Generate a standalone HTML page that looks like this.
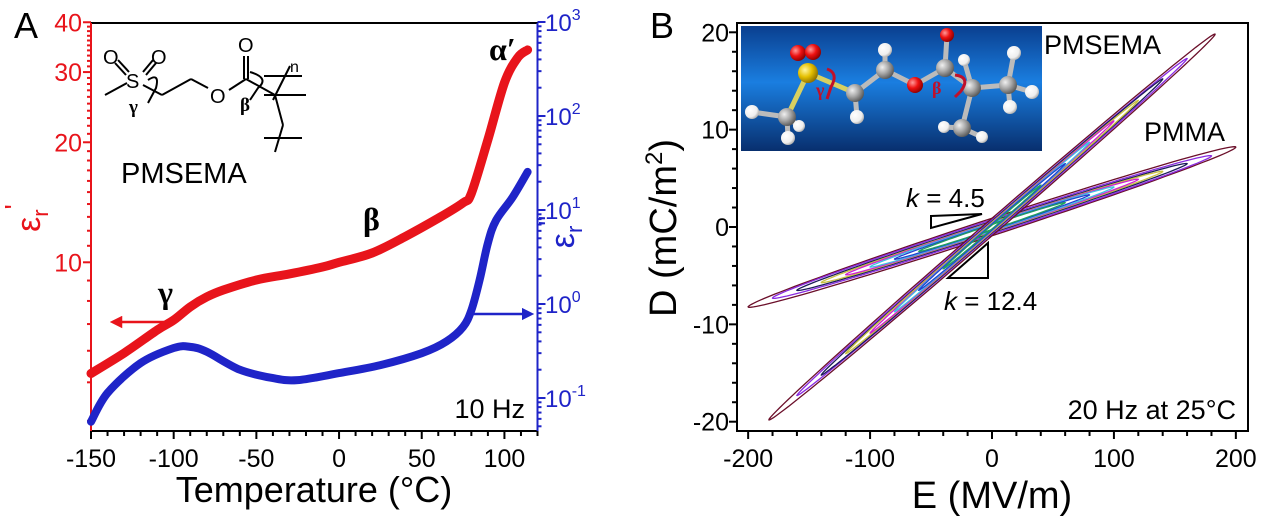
<!DOCTYPE html>
<html><head><meta charset="utf-8">
<style>
html,body{margin:0;padding:0;background:#fff;}
svg{display:block;font-family:"Liberation Sans",sans-serif;}
</style></head>
<body>
<svg id="fig" width="1268" height="524" viewBox="0 0 1268 524" xmlns="http://www.w3.org/2000/svg">
<defs>
<linearGradient id="bg" x1="0" y1="0" x2="0" y2="1">
<stop offset="0" stop-color="#0a3f8f"/><stop offset="0.45" stop-color="#1a7ee0"/><stop offset="1" stop-color="#082f6e"/>
</linearGradient>
<radialGradient id="gS" cx="0.35" cy="0.35" r="0.7"><stop offset="0" stop-color="#fff6a0"/><stop offset="0.5" stop-color="#e5c000"/><stop offset="1" stop-color="#8a6d00"/></radialGradient>
<radialGradient id="gO" cx="0.35" cy="0.35" r="0.7"><stop offset="0" stop-color="#ff9a9a"/><stop offset="0.5" stop-color="#ee1111"/><stop offset="1" stop-color="#880000"/></radialGradient>
<radialGradient id="gC" cx="0.35" cy="0.35" r="0.7"><stop offset="0" stop-color="#f0f0f0"/><stop offset="0.5" stop-color="#a8a8a8"/><stop offset="1" stop-color="#555"/></radialGradient>
<radialGradient id="gH" cx="0.35" cy="0.35" r="0.7"><stop offset="0" stop-color="#ffffff"/><stop offset="0.7" stop-color="#eeeeee"/><stop offset="1" stop-color="#aaaaaa"/></radialGradient>
<marker id="arR" viewBox="0 0 10 10" refX="5" refY="5" markerWidth="5" markerHeight="5" orient="auto"><path d="M0,0 L10,5 L0,10 z" fill="#e8141b"/></marker>
<marker id="arB" viewBox="0 0 10 10" refX="5" refY="5" markerWidth="5" markerHeight="5" orient="auto"><path d="M0,0 L10,5 L0,10 z" fill="#1f24c8"/></marker>
</defs>
<g id="panelA"></g>
<g id="panelB"></g>
</svg>
<script>
// ---------- Panel A data ----------
const tempRed = [-150,-130,-110,-100,-90,-80,-70,-50,-30,-10,0,20,40,60,75,80,90,100,108,114];
const epsReal = [5.26,5.92,6.76,7.16,7.73,8.19,8.52,9.03,9.35,9.73,10.0,10.55,11.6,12.9,14.1,14.9,20.3,28.2,32.6,34.1];
const tempBlue = [-150,-140,-120,-100,-90,-80,-60,-40,-25,0,25,50,65,75,80,85,90,95,105,114];
const epsImag = [0.056,0.113,0.235,0.34,0.35,0.31,0.2,0.163,0.155,0.184,0.224,0.30,0.40,0.57,0.86,1.8,4.45,7.8,13.7,25.4];
const xTicksA = [-150,-100,-50,0,50,100];
const yTicksLeft = [10,20,30,40];
const yExpRight = [-1,0,1,2,3];
// ---------- Panel B data ----------
const pmsemaEmax = [183,160,140,120,100,80,60,40];
const pmsemaDmax = [19.8,17.3,15.2,13.0,10.9,8.7,6.5,4.3];
const pmsemaLoss = [0.9,0.7,0.6,0.5,0.4,0.35,0.3,0.2];
const pmmaEmax = [200,180,160,140,120,100,80,60];
const pmmaDmax = [8.2,7.3,6.5,5.7,4.9,4.1,3.3,2.5];
const pmmaLoss = [0.9,0.75,0.6,0.5,0.45,0.4,0.3,0.25];
const loopColors = ['#6b0f2a','#8a2be2','#1b1b5a','#c8c040','#d020d0','#40c0e0','#2040d0','#20a060'];
const xTicksB = [-200,-100,0,100,200];
const yTicksB = [-20,-10,0,10,20];

const NS='http://www.w3.org/2000/svg';
function mk(parent,tag,attrs,text){const e=document.createElementNS(NS,tag);for(const k in attrs)e.setAttribute(k,attrs[k]);if(text!==undefined)e.textContent=text;parent.appendChild(e);return e;}

// ---------- Panel A ----------
const A=document.getElementById('panelA');
const aL=91,aR=537.5,aT=23,aB=431;
const xA=t=>aL+(t+150)*(aR-aL)/270;
const yL=v=>262.3-(Math.log10(v)-1)*398.7;
const yR=v=>304-Math.log10(v)*94;

let e;
e=mk(A,'line',{x1:aL,y1:aT,x2:aR,y2:aT,stroke:'#000','stroke-width':2});

e=mk(A,'line',{x1:aL-1,y1:aB,x2:aR+1,y2:aB,stroke:'#000','stroke-width':2});

e=mk(A,'line',{x1:aL,y1:aT,x2:aL,y2:aB,stroke:'#e8141b','stroke-width':2});

e=mk(A,'line',{x1:aR,y1:aT,x2:aR,y2:aB,stroke:'#1f24c8','stroke-width':2});

for(let t=-150;t<=120;t+=10){const maj=(t%50===0);
 e=mk(A,'line',{x1:xA(t),y1:aB,x2:xA(t),y2:aB+(maj?8:5),stroke:'#000','stroke-width':2});
 }
xTicksA.forEach(t=>{e=mk(A,'text',{x:xA(t),y:467,'font-size':25,'text-anchor':'middle'},String(t));
 });
for(let v=4;v<=40;v+=1){const maj=yTicksLeft.includes(v);
 if(yL(v)<aT-1)break;
 e=mk(A,'line',{x1:aL,y1:yL(v),x2:aL-(maj?8:4),y2:yL(v),stroke:'#e8141b','stroke-width':2});
 }
yTicksLeft.forEach(v=>{e=mk(A,'text',{x:82,y:yL(v)+9,'font-size':25,'text-anchor':'end',fill:'#e8141b'},String(v));
 });
for(let d=-2;d<3;d++){for(let m=1;m<10;m++){const v=m*Math.pow(10,d);const y=yR(v);if(y>aB||y<aT-1)continue;
 e=mk(A,'line',{x1:aR,y1:y,x2:aR+(m===1?8:4),y2:y,stroke:'#1f24c8','stroke-width':2});
 }}
e=mk(A,'line',{x1:aR,y1:yR(1000),x2:aR+8,y2:yR(1000),stroke:'#1f24c8','stroke-width':2});

yExpRight.forEach(p=>{const g=mk(A,'text',{x:545,y:yR(Math.pow(10,p))+9,'font-size':24,fill:'#1f24c8'});
 
 mk(g,'tspan',{},'10');mk(g,'tspan',{dy:-11,'font-size':16},String(p));});
// smooth curves (Catmull-Rom)
function smoothPath(xs,ys,fx,fy){const P=xs.map((x,i)=>[fx(x),fy(ys[i])]);let d='M'+P[0][0].toFixed(1)+','+P[0][1].toFixed(1);
 for(let i=0;i<P.length-1;i++){const p0=P[i-1]||P[i],p1=P[i],p2=P[i+1],p3=P[i+2]||P[i+1];
  const c1=[p1[0]+(p2[0]-p0[0])/6,p1[1]+(p2[1]-p0[1])/6],c2=[p2[0]-(p3[0]-p1[0])/6,p2[1]-(p3[1]-p1[1])/6];
  d+=' C'+c1[0].toFixed(1)+','+c1[1].toFixed(1)+' '+c2[0].toFixed(1)+','+c2[1].toFixed(1)+' '+p2[0].toFixed(1)+','+p2[1].toFixed(1);}
 return d;}
e=mk(A,'path',{d:smoothPath(tempBlue,epsImag,xA,yR),fill:'none',stroke:'#1f24c8','stroke-width':8,'stroke-linejoin':'round','stroke-linecap':'round'});

e=mk(A,'path',{d:smoothPath(tempRed,epsReal,xA,yL),fill:'none',stroke:'#e8141b','stroke-width':9,'stroke-linejoin':'round','stroke-linecap':'round'});

e=mk(A,'line',{x1:171,y1:322,x2:116,y2:322,stroke:'#e8141b','stroke-width':2.5,'marker-end':'url(#arR)'});

e=mk(A,'line',{x1:473,y1:314,x2:528,y2:314,stroke:'#1f24c8','stroke-width':2.5,'marker-end':'url(#arB)'});

</script>
<script>
(function(){
const A=document.getElementById('panelA');
const s=`
<text x="14" y="38" font-size="36">A</text>
<text x="314" y="502" font-size="36" text-anchor="middle">Temperature (°C)</text>
<text transform="translate(40,218) rotate(-90)" font-size="34" text-anchor="middle" fill="#e8141b">ε<tspan font-size="22" dy="8">r</tspan><tspan dy="-24" font-size="28">'</tspan></text>
<text transform="translate(574,232) rotate(-90)" font-size="34" text-anchor="middle" fill="#1f24c8">ε<tspan font-size="22" dy="8">r</tspan><tspan dy="-24" font-size="28">"</tspan></text>
<text x="121" y="183" font-size="29">PMSEMA</text>
<text x="525" y="418" font-size="27" text-anchor="end">10 Hz</text>
<text x="363" y="230" font-size="32" font-family="Liberation Serif" font-weight="bold">β</text>
<text x="158" y="303" font-size="32" font-family="Liberation Serif" font-weight="bold">γ</text>
<text x="489" y="60" font-size="32" font-family="Liberation Serif" font-weight="bold">α′</text>
<g stroke="#000" stroke-width="2" fill="none" font-size="20">
<text x="103" y="64" stroke="none" fill="#000">O</text><text x="151" y="64" stroke="none" fill="#000">O</text>
<text x="126" y="88" stroke="none" fill="#000">S</text><text x="210" y="103" stroke="none" fill="#000">O</text><text x="238" y="52" stroke="none" fill="#000">O</text>
<line x1="118" y1="60" x2="129" y2="72"/><line x1="115" y1="63" x2="126" y2="75"/>
<line x1="153" y1="60" x2="143" y2="72"/><line x1="156" y1="63" x2="146" y2="75"/>
<line x1="105" y1="95" x2="127" y2="83"/><line x1="143" y1="85" x2="162" y2="95"/>
<line x1="162" y1="95" x2="191" y2="79"/><line x1="191" y1="79" x2="208" y2="88"/>
<line x1="229" y1="90" x2="246" y2="79"/><line x1="244" y1="56" x2="244" y2="79"/><line x1="248" y1="56" x2="248" y2="79"/>
<line x1="246" y1="79" x2="275" y2="95"/><line x1="275" y1="95" x2="283" y2="125"/><line x1="283" y1="125" x2="275" y2="152"/>
<line x1="264" y1="76" x2="302" y2="76"/><line x1="264" y1="95" x2="306" y2="95"/><line x1="264" y1="138" x2="302" y2="138"/>
<line x1="273" y1="100" x2="290" y2="66"/>
<path d="M148,80 q12,-8 8,8 l-8,15"/><path d="M250,72 q20,6 8,16 l-8,12"/>
<text x="290" y="72" stroke="none" fill="#000" font-size="16">n</text>
<text x="129" y="113" stroke="none" fill="#000" font-family="Liberation Serif" font-weight="bold" font-size="19">γ</text>
<text x="240" y="111" stroke="none" fill="#000" font-family="Liberation Serif" font-weight="bold" font-size="19">β</text>
</g>`;
A.insertAdjacentHTML('beforeend',s);
})();
</script>
<script>
(function(){
const B=document.getElementById('panelB');
const bL=737,bR=1248,bT=23,bB=431;
const xB=v=>992+v*(1236.7-749)/400;
const yB=v=>227-v*9.735;
let e;
const inset=`
<g>
<rect x="741" y="26" width="301" height="125" fill="url(#bg)"/>
<g stroke="#bbbbbb" stroke-width="5" stroke-linecap="round">
<line x1="808" y1="73" x2="787" y2="117" stroke="#d8d060"/><line x1="808" y1="73" x2="855" y2="93" stroke="#d8d060"/>
<line x1="787" y1="117" x2="752" y2="112"/><line x1="787" y1="117" x2="788" y2="138"/><line x1="787" y1="117" x2="799" y2="126"/>
<line x1="855" y1="93" x2="885" y2="70"/><line x1="855" y1="93" x2="857" y2="117"/><line x1="885" y1="70" x2="885" y2="50"/>
<line x1="885" y1="70" x2="915" y2="85"/><line x1="915" y1="85" x2="945" y2="68"/><line x1="945" y1="68" x2="947" y2="35"/>
<line x1="945" y1="68" x2="972" y2="88"/><line x1="972" y1="88" x2="1008" y2="85"/><line x1="972" y1="88" x2="962" y2="128"/>
<line x1="1008" y1="85" x2="1014" y2="53"/><line x1="1008" y1="85" x2="1032" y2="92"/><line x1="1008" y1="85" x2="1010" y2="107"/>
<line x1="962" y1="128" x2="944" y2="127"/><line x1="962" y1="128" x2="982" y2="137"/><line x1="972" y1="88" x2="964" y2="60"/>
</g>
<circle cx="798" cy="53" r="8" fill="url(#gO)"/><circle cx="813" cy="52" r="8" fill="url(#gO)"/>
<circle cx="808" cy="73" r="10" fill="url(#gS)"/>
<circle cx="752" cy="112" r="7" fill="url(#gH)"/><circle cx="788" cy="138" r="7" fill="url(#gH)"/><circle cx="799" cy="126" r="6" fill="url(#gH)"/>
<circle cx="787" cy="117" r="9" fill="url(#gC)"/>
<circle cx="857" cy="117" r="7" fill="url(#gH)"/><circle cx="855" cy="93" r="9" fill="url(#gC)"/>
<circle cx="885" cy="50" r="7" fill="url(#gH)"/><circle cx="885" cy="70" r="9" fill="url(#gC)"/>
<circle cx="915" cy="85" r="8" fill="url(#gO)"/>
<circle cx="947" cy="35" r="7" fill="url(#gO)"/><circle cx="945" cy="68" r="9" fill="url(#gC)"/>
<circle cx="964" cy="60" r="6" fill="url(#gH)"/><circle cx="1014" cy="53" r="7" fill="url(#gH)"/>
<circle cx="1032" cy="92" r="7" fill="url(#gH)"/><circle cx="1010" cy="107" r="7" fill="url(#gH)"/>
<circle cx="1008" cy="85" r="9" fill="url(#gC)"/><circle cx="972" cy="88" r="9" fill="url(#gC)"/>
<circle cx="944" cy="127" r="6" fill="url(#gH)"/><circle cx="982" cy="137" r="6" fill="url(#gH)"/>
<circle cx="962" cy="128" r="9" fill="url(#gC)"/>
<path d="M827,69 q12,4 4,18 l-4,12" stroke="#c0102a" stroke-width="3" fill="none"/>
<path d="M955,75 q16,2 6,16 l-6,6" stroke="#c0102a" stroke-width="3" fill="none"/>
<text x="816" y="96" font-size="18" font-family="Liberation Serif" font-weight="bold" fill="#c0102a">γ</text>
<text x="932" y="94" font-size="18" font-family="Liberation Serif" font-weight="bold" fill="#c0102a">β</text>
</g>`;
B.insertAdjacentHTML('beforeend',inset);
function loopPath(Emax,Dmax,loss){let d='';for(let i=0;i<=120;i++){const t=i/120*2*Math.PI;const E=Emax*Math.cos(t);const D=Dmax*Math.cos(t)+loss*Math.sin(t);d+=(i?'L':'M')+xB(E).toFixed(1)+','+yB(D).toFixed(1);}return d+'Z';}
pmmaEmax.forEach((Em,i)=>{e=mk(B,'path',{d:loopPath(Em,pmmaDmax[i],pmmaLoss[i]),fill:'none',stroke:loopColors[i],'stroke-width':1.3});
 });
pmsemaEmax.forEach((Em,i)=>{e=mk(B,'path',{d:loopPath(Em,pmsemaDmax[i],pmsemaLoss[i]),fill:'none',stroke:loopColors[i],'stroke-width':1.3});
 });
e=mk(B,'rect',{x:bL,y:bT,width:bR-bL,height:bB-bT,fill:'none',stroke:'#000','stroke-width':2});

for(let v=-200;v<=200;v+=20){const maj=(v%100===0);
 e=mk(B,'line',{x1:xB(v),y1:bB,x2:xB(v),y2:bB+(maj?8:5),stroke:'#000','stroke-width':2});
 }
for(let v=-20;v<=20;v+=2){const maj=(v%10===0);
 e=mk(B,'line',{x1:bL,y1:yB(v),x2:bL-(maj?8:5),y2:yB(v),stroke:'#000','stroke-width':2});
 }
xTicksB.forEach(v=>{e=mk(B,'text',{x:xB(v),y:467,'font-size':25,'text-anchor':'middle'},String(v));
 });
yTicksB.forEach(v=>{e=mk(B,'text',{x:729,y:yB(v)+9,'font-size':25,'text-anchor':'end'},String(v));
 });
const txt=`
<text x="650" y="38" font-size="36">B</text>
<text x="992" y="508" font-size="38" text-anchor="middle">E (MV/m)</text>
<text transform="translate(676,228) rotate(-90)" font-size="38" text-anchor="middle">D (mC/m<tspan font-size="24" dy="-14">2</tspan><tspan dy="14">)</tspan></text>
<text x="1044" y="54" font-size="27">PMSEMA</text>
<text x="1144" y="141" font-size="27">PMMA</text>
<text x="1236" y="419" font-size="27" text-anchor="end">20 Hz at 25°C</text>
<text x="906" y="207" font-size="26"><tspan font-style="italic">k</tspan> = 4.5</text>
<text x="944" y="310" font-size="26"><tspan font-style="italic">k</tspan> = 12.4</text>
<polygon points="931,216 982,214 931,228" fill="none" stroke="#000" stroke-width="2"/>
<polygon points="948,278 988,243 988,278" fill="none" stroke="#000" stroke-width="2"/>`;
B.insertAdjacentHTML('beforeend',txt);
})();
</script>
</body></html>
